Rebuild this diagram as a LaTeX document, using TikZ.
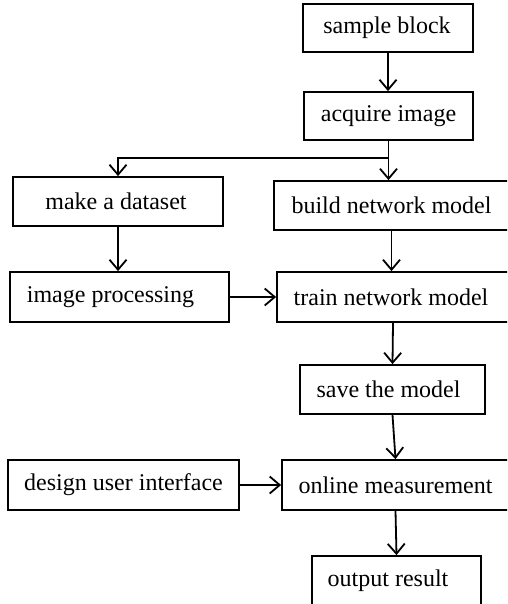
\documentclass[tikz,border=0pt]{standalone}
\usepackage{fontspec}
\setmainfont{Liberation Serif}
\usetikzlibrary{arrows.meta}
\begin{document}
\begin{tikzpicture}[x=1pt,y=-1pt,
  box/.style={draw=black,line width=1.8pt,inner sep=0pt,
    font=\fontsize{24}{28}\selectfont,anchor=center},
  arr/.style={line width=1.8pt,-{Straight Barb[length=10pt,width=17pt,line width=1.8pt]}},
  ln/.style={line width=1.8pt}]
\useasboundingbox (0,0) rectangle (507,604);
\clip (0,0) rectangle (507,604);
\fill[white] (0,0) rectangle (507,604);
\node[box,minimum width=170pt,minimum height=48pt] (sample) at (388,28) {sample block\hspace*{2pt}};
\node[box,minimum width=169pt,minimum height=48pt] (acquire) at (388.5,116) {acquire image};
\node[box,minimum width=210pt,minimum height=49pt] (dataset) at (118,201.5) {make a dataset\hspace*{4pt}};
\node[box,minimum width=235pt,minimum height=49pt] (build) at (391.5,205.5) {build network model};
\node[box,minimum width=219pt,minimum height=50pt] (imgproc) at (119.5,297) {image processing\hspace*{18pt}};
\node[box,minimum width=232pt,minimum height=50pt] (train) at (393,297) {train network model\hspace*{4pt}};
\node[box,minimum width=185pt,minimum height=49pt] (save) at (392.5,389.5) {save the model\hspace*{8pt}};
\node[box,minimum width=231pt,minimum height=50pt] (design) at (123.5,485) {design user interface};
\node[box,minimum width=227pt,minimum height=50pt] (online) at (395.5,485) {online measurement};
\node[box,minimum width=169pt,minimum height=50pt] (output) at (396.5,581) {output result\hspace*{17pt}};
\coordinate (split) at (388.5,158);
\draw[arr] (sample.south) -- (sample.south |- acquire.north);
\draw[ln] (acquire.south) -- (split);
\draw[arr] (split) -| (dataset.north);
\draw[arr] (split) -- (split |- build.north);
\draw[arr] (dataset.south) -- (dataset.south |- imgproc.north);
\draw[arr] (imgproc.east) -- (imgproc.east -| train.west);
\draw[arr] (build.south) -- (build.south |- train.north);
\draw[arr] (train.south) -- (save.north);
\draw[arr] (save.south) -- (online.north);
\draw[arr] (design.east) -- (design.east -| online.west);
\draw[arr] (online.south) -- (output.north);
\end{tikzpicture}
\end{document}
